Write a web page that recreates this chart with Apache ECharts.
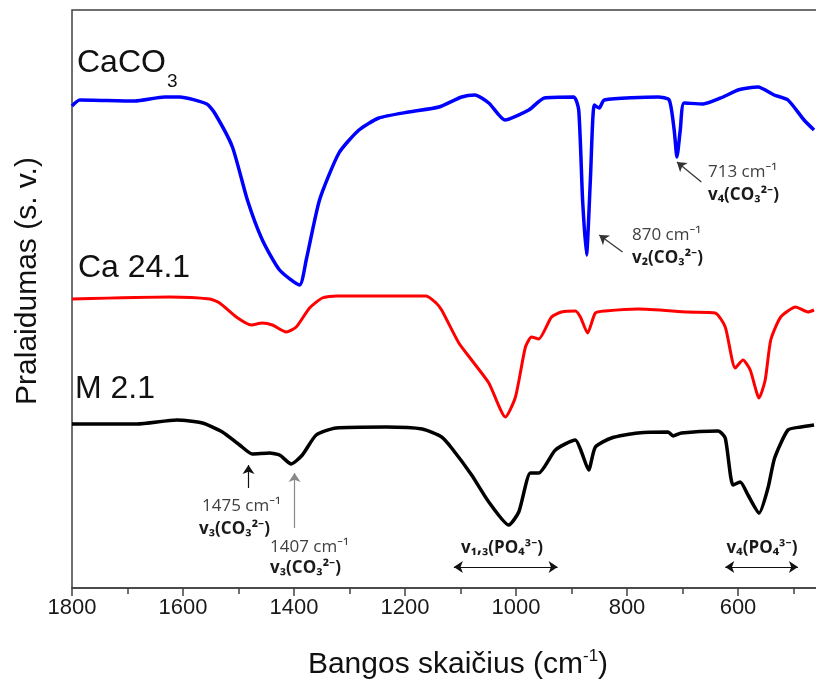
<!DOCTYPE html>
<html>
<head>
<meta charset="utf-8">
<script src="https://cdn.jsdelivr.net/npm/echarts@6.0.0/dist/echarts.min.js"></script>
<style>
  html, body { margin: 0; padding: 0; background: #fff; overflow: hidden; }
  /* wider than the window: the 400-460 cm-1 part of the axis falls off the right edge */
  #chart { width: 852px; height: 679px; }
</style>
</head>
<body>
<div id="chart"></div>
<script>
// wavenumbers (cm-1) and transmittance (arb. units, offset spectra)
const caco3Wn = [1800, 1786, 1687, 1633, 1606, 1557, 1543, 1511, 1484, 1457, 1426, 1390, 1378, 1354, 1319, 1283, 1247, 1193, 1139, 1098, 1074, 1049, 1020, 977, 949, 896, 887, 880, 873, 866, 859, 850, 841, 744, 724, 715, 710, 704, 697, 663, 627, 600, 564, 535, 510, 481, 463]
const caco3T = [482, 488, 487, 491, 491, 484, 475, 441, 388, 348, 318, 303, 328, 388, 435, 458, 470, 476, 481, 491, 493, 485, 468, 478, 490, 491, 478, 388, 333, 408, 483, 480, 488, 491, 488, 458, 431, 458, 485, 484, 491, 498, 501, 493, 488, 468, 458]

const ca241Wn = [1800, 1624, 1552, 1534, 1504, 1477, 1457, 1439, 1414, 1396, 1372, 1349, 1324, 1162, 1144, 1134, 1103, 1080, 1049, 1019, 1001, 983, 972, 959, 936, 918, 893, 884, 871, 857, 839, 780, 690, 641, 623, 605, 591, 578, 562, 551, 541, 523, 496, 474, 463]
const ca241T = [289, 291, 289, 285, 271, 263, 265, 263, 256, 261, 280, 290, 292, 292, 285, 278, 245, 228, 205, 171, 191, 241, 251, 249, 271, 276, 277, 271, 255, 275, 277, 279, 276, 275, 261, 220, 228, 218, 190, 208, 248, 271, 281, 276, 278]

const m21Wn = [1800, 1683, 1611, 1565, 1529, 1498, 1475, 1444, 1426, 1405, 1385, 1360, 1324, 1234, 1169, 1134, 1116, 1080, 1049, 1013, 995, 974, 959, 929, 893, 882, 869, 857, 828, 780, 726, 717, 702, 636, 623, 609, 596, 582, 562, 546, 534, 510, 487, 463]
const m21T = [164, 164, 168, 165, 156, 143, 134, 135, 133, 124, 133, 153, 160, 161, 159, 151, 140, 113, 86, 63, 76, 115, 115, 138, 148, 136, 118, 141, 150, 155, 156, 152, 155, 157, 150, 103, 106, 93, 75, 100, 130, 158, 161, 163]

const xTicks = [600, 800, 1000, 1200, 1400, 1600, 1800]

// arrows: [x1, y1, x2, y2] in data units
const arrow713 = [666, 406, 710, 426]
const arrow870 = [808, 336, 850, 353]
const arrow1475 = [1482, 100, 1482, 123]
const arrow1407 = [1399, 60, 1399, 115]
const rangePO4a = [1112, 21, 925, 21]
const rangePO4b = [623, 21, 492, 21]

function zip(xs, ys) {
  return xs.map((x, i) => [x, ys[i]])
}

function arrowLine(a, color, both) {
  return [
    { coord: [a[0], a[1]], symbol: both ? 'arrow' : 'none', lineStyle: { color: color, width: 1.2, type: 'solid' } },
    { coord: [a[2], a[3]], symbol: 'arrow' }
  ]
}

const annoFont = "'Open Sans', 'Noto Sans', 'DejaVu Sans', sans-serif"
const mainFont = "'Liberation Sans', Arial, sans-serif"

function note(x, y, text, bold, align) {
  return {
    type: 'text', x: x, y: y, z: 100,
    style: {
      text: text, fill: bold ? '#1a1a1a' : '#404040',
      fontSize: 17, fontWeight: bold ? 'bold' : 'normal', fontFamily: annoFont,
      align: align || 'left', verticalAlign: 'middle',
      textAlign: align || 'left', textVerticalAlign: 'middle'
    }
  }
}

function bigText(x, y, text, size) {
  return {
    type: 'text', x: x, y: y, z: 100,
    style: {
      text: text, fill: '#111', fontSize: size, fontFamily: mainFont,
      align: 'left', verticalAlign: 'middle',
      textAlign: 'left', textVerticalAlign: 'middle'
    }
  }
}

const chart = echarts.init(document.getElementById('chart'), null, { renderer: 'canvas' })

const option = {
  animation: false,
  backgroundColor: '#fff',
  grid: {
    left: 72, right: 0, top: 10, bottom: 91,
    show: true, borderColor: '#404040', borderWidth: 1.5
  },
  xAxis: {
    type: 'value',
    inverse: true,
    min: 400,
    max: 1800,
    interval: 200,
    axisLine: { show: true, lineStyle: { color: '#404040', width: 1.5 } },
    axisTick: { show: true, length: 8, lineStyle: { color: '#404040', width: 1.5 } },
    minorTick: { show: true, splitNumber: 2, length: 6, lineStyle: { color: '#404040', width: 1.5 } },
    axisLabel: {
      fontSize: 22, color: '#1a1a1a', fontFamily: mainFont, margin: 9,
      formatter: function (v) { return xTicks.indexOf(v) >= 0 ? String(v) : '' }
    },
    splitLine: { show: false }
  },
  yAxis: {
    type: 'value',
    min: 0,
    max: 578,
    axisLine: { show: false },
    axisTick: { show: false },
    axisLabel: { show: false },
    splitLine: { show: false }
  },
  series: [
    {
      name: 'CaCO3', type: 'line', data: zip(caco3Wn, caco3T), showSymbol: false,
      smooth: 0.2, lineStyle: { color: '#0000ff', width: 3.5 }
    },
    {
      name: 'Ca 24.1', type: 'line', data: zip(ca241Wn, ca241T), showSymbol: false,
      smooth: 0.2, lineStyle: { color: '#ff0000', width: 3 }
    },
    {
      name: 'M 2.1', type: 'line', data: zip(m21Wn, m21T), showSymbol: false,
      smooth: 0.2, lineStyle: { color: '#000000', width: 3.5 },
      markLine: {
        silent: true,
        symbolSize: 9,
        label: { show: false },
        data: [
          arrowLine(arrow713, '#333', false),
          arrowLine(arrow870, '#333', false),
          arrowLine(arrow1475, '#111', false),
          arrowLine(arrow1407, '#888', false),
          arrowLine(rangePO4a, '#111', true),
          arrowLine(rangePO4b, '#111', true)
        ]
      }
    }
  ],
  graphic: [
    bigText(77, 63, 'CaCO', 32),
    bigText(167, 82, '3', 19),
    bigText(78, 268, 'Ca 24.1', 32),
    bigText(75, 389, 'M 2.1', 32),
    note(708, 172, '713 cm⁻¹'),
    note(708, 195, 'v₄(CO₃²⁻)', true),
    note(632, 235, '870 cm⁻¹'),
    note(632, 258, 'v₂(CO₃²⁻)', true),
    note(202, 506, '1475 cm⁻¹'),
    note(199, 529, 'v₃(CO₃²⁻)', true),
    note(270, 547, '1407 cm⁻¹'),
    note(270, 568, 'v₃(CO₃²⁻)', true),
    note(502, 548, 'v₁,₃(PO₄³⁻)', true, 'center'),
    note(762, 548, 'v₄(PO₄³⁻)', true, 'center'),
    {
      type: 'text', x: 28, y: 281, rotation: Math.PI / 2, z: 100,
      style: {
        text: 'Pralaidumas (s. v.)', fill: '#111', fontSize: 30, fontFamily: mainFont,
        align: 'center', verticalAlign: 'middle', textAlign: 'center', textVerticalAlign: 'middle'
      }
    },
    {
      type: 'text', x: 458, y: 665, z: 100,
      style: {
        text: '{a|Bangos skaičius (cm}{s|-1}{a|)}', fill: '#111', fontFamily: mainFont,
        align: 'center', verticalAlign: 'middle', textAlign: 'center', textVerticalAlign: 'middle',
        rich: {
          a: { fontSize: 30, lineHeight: 34, fontFamily: mainFont, fill: '#111' },
          s: { fontSize: 17, lineHeight: 17, fontFamily: mainFont, fill: '#111', verticalAlign: 'top' }
        }
      }
    }
  ]
}

chart.setOption(option)
</script>
</body>
</html>
